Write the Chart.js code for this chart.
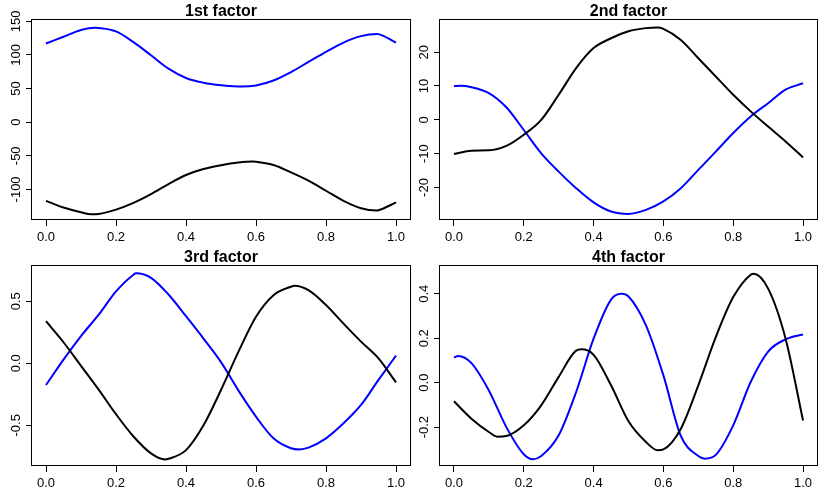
<!DOCTYPE html>
<html>
<head>
<meta charset="utf-8">
<script src="https://cdn.jsdelivr.net/npm/chart.js@4.4.1/dist/chart.umd.min.js"></script>
<style>
  html, body { margin: 0; padding: 0; background: #fff; }
  #wrap { position: relative; width: 818px; height: 487px; overflow: hidden; }
  canvas { position: absolute; }
</style>
</head>
<body>
<div id="wrap">
  <canvas id="f1" width="412" height="243" style="left:0;top:0"></canvas>
  <canvas id="f2" width="406" height="243" style="left:412px;top:0"></canvas>
  <canvas id="f3" width="412" height="244" style="left:0;top:243px"></canvas>
  <canvas id="f4" width="406" height="244" style="left:412px;top:243px"></canvas>
</div>
<script>
// sample positions along the x axis
const xs = [0, 0.05, 0.1, 0.15, 0.2, 0.25, 0.3, 0.35, 0.4, 0.45, 0.5,
            0.55, 0.6, 0.65, 0.7, 0.75, 0.8, 0.85, 0.9, 0.95, 1.0];
const xTicks = [0, 0.2, 0.4, 0.6, 0.8, 1.0];

// 1st factor
const f1Black = [-117, -127, -134, -136.5, -130, -120, -107, -92, -78.6, -69.7, -64,
                 -60, -58.7, -63.7, -74.6, -87, -102, -117, -128, -131, -119.4];
const f1Blue = [117, 127, 137, 140.2, 135, 119, 99.5, 79.6, 65.7, 58.7, 55,
                53.2, 54.7, 62, 74.6, 89.6, 104.5, 118.4, 128, 131, 118.4];
// turning points: [x, y]
const f1BlackPeaks = [[0.13, -137], [0.59, -58.5], [0.945, -131.3]];
const f1BluePeaks = [[0.14, 140.5], [0.56, 53.1], [0.945, 131.2]];
const f1Ticks = [-100, -50, 0, 50, 100, 150];

// 2nd factor
const f2Black = [-10.1, -9.1, -9, -7.7, -4.4, 0, 7.4, 15.3, 21.2, 24.1, 26.2,
                 27.1, 26.9, 23.6, 18.2, 12.8, 7.4, 2.5, -2, -6.4, -11.1];
const f2Blue = [10, 9.65, 7.9, 3.7, -3.0, -9.9, -15.3, -20.2, -24.4, -27.1, -27.8,
                -26.6, -24.1, -20.2, -14.8, -9.4, -3.9, 1, 4.9, 8.9, 10.8];
const f2BlackPeaks = [[0.583, 27.3]];
const f2BluePeaks = [[0.02, 10.05]];
const f2Ticks = [-20, -10, 0, 10, 20];

// 3rd factor
const f3Black = [0.34, 0.17, -0.02, -0.21, -0.41, -0.59, -0.726, -0.77, -0.70, -0.50, -0.215,
                 0.094, 0.376, 0.55, 0.618, 0.59, 0.47, 0.32, 0.175, 0.04, -0.153];
const f3Blue = [-0.175, 0.03, 0.22, 0.39, 0.58, 0.715, 0.69, 0.555, 0.38, 0.2, 0.01,
                -0.22, -0.43, -0.605, -0.685, -0.68, -0.605, -0.484, -0.336, -0.134, 0.062];
const f3BlackPeaks = [[0.34, -0.775], [0.71, 0.626]];
const f3BluePeaks = [[0.257, 0.726], [0.724, -0.694]];
const f3Ticks = [-0.5, 0, 0.5];

// 4th factor
const f4Black = [-0.084, -0.162, -0.222, -0.24, -0.192, -0.102, 0.026, 0.144, 0.125, -0.012, -0.174,
                 -0.267, -0.3, -0.207, -0.012, 0.205, 0.385, 0.486, 0.423, 0.198, -0.17];
const f4Blue = [0.1125, 0.088, -0.035, -0.2, -0.322, -0.33, -0.237, -0.042, 0.198, 0.374, 0.388,
                0.258, 0.033, -0.24, -0.33, -0.325, -0.192, 0.003, 0.14, 0.195, 0.217];
const f4BlackPeaks = [[0.124, -0.243], [0.366, 0.15], [0.583, -0.304], [0.859, 0.49]];
const f4BluePeaks = [[0.012, 0.12], [0.226, -0.345], [0.48, 0.4], [0.719, -0.342]];
const f4Ticks = [-0.2, 0, 0.2, 0.4];

Chart.defaults.font.family = '"Liberation Sans", Arial, Helvetica, sans-serif';
Chart.defaults.color = '#000';

// samples plus turning points, sorted by x
function points(ys, peaks) {
  return xs.map((x, i) => ({ x: x, y: ys[i] }))
    .concat(peaks.map(p => ({ x: p[0], y: p[1] })))
    .sort((a, b) => a.x - b.x);
}

// box around the plot region and vertical y tick labels (R style)
const frame = {
  id: 'frame',
  afterDraw(chart) {
    const { ctx, chartArea: a } = chart;
    const y = chart.scales.y;
    ctx.save();
    ctx.strokeStyle = '#000';
    ctx.lineWidth = 1;
    ctx.strokeRect(a.left - 0.5, a.top - 0.5, a.right - a.left + 1, a.bottom - a.top);
    ctx.fillStyle = '#000';
    ctx.font = '13px "Liberation Sans", Arial, sans-serif';
    ctx.textAlign = 'center';
    ctx.textBaseline = 'middle';
    y.ticks.forEach(t => {
      ctx.save();
      ctx.translate(a.left - 15.5, y.getPixelForValue(t.value));
      ctx.rotate(-Math.PI / 2);
      ctx.fillText(t.label, 0, 0);
      ctx.restore();
    });
    ctx.restore();
  }
};

const panels = [
  { id: 'f1', title: '1st factor', black: points(f1Black, f1BlackPeaks), blue: points(f1Blue, f1BluePeaks),
    ticks: f1Ticks, min: -145.5, max: 152, dec: 0, yw: 32, padR: 2, titleTop: 4, xh: 23 },
  { id: 'f2', title: '2nd factor', black: points(f2Black, f2BlackPeaks), blue: points(f2Blue, f2BluePeaks),
    ticks: f2Ticks, min: -29.6, max: 29.5, dec: 0, yw: 28, padR: 1, titleTop: 4, xh: 23 },
  { id: 'f3', title: '3rd factor', black: points(f3Black, f3BlackPeaks), blue: points(f3Blue, f3BluePeaks),
    ticks: f3Ticks, min: -0.828, max: 0.785, dec: 1, yw: 32, padR: 2, titleTop: 7, xh: 21 },
  { id: 'f4', title: '4th factor', black: points(f4Black, f4BlackPeaks), blue: points(f4Blue, f4BluePeaks),
    ticks: f4Ticks, min: -0.375, max: 0.525, dec: 1, yw: 28, padR: 1, titleTop: 7, xh: 21 }
];

panels.forEach(p => {
  const tickGrid = { drawOnChartArea: false, color: '#000', lineWidth: 1, tickLength: 6 };
  new Chart(document.getElementById(p.id).getContext('2d'), {
    type: 'line',
    data: {
      datasets: [{
        data: p.black,
        borderColor: '#000000',
        borderWidth: 2,
        pointRadius: 0,
        cubicInterpolationMode: 'monotone',
        fill: false
      }, {
        data: p.blue,
        borderColor: '#0000ff',
        borderWidth: 2,
        pointRadius: 0,
        cubicInterpolationMode: 'monotone',
        fill: false
      }]
    },
    options: {
      responsive: false,
      animation: false,
      devicePixelRatio: 1,
      layout: { padding: { left: 0, right: p.padR, top: 0, bottom: 0 } },
      plugins: {
        legend: { display: false },
        tooltip: { enabled: false },
        title: {
          display: true,
          text: p.title,
          fullSize: false,
          color: '#000',
          font: { size: 16, weight: 'bold', lineHeight: 1 },
          padding: { top: p.titleTop, bottom: 0 }
        }
      },
      scales: {
        x: {
          type: 'linear',
          min: -0.04,
          max: 1.04,
          afterBuildTicks: s => { s.ticks = xTicks.map(v => ({ value: v })); },
          afterFit: s => { s.height = p.xh; },
          grid: tickGrid,
          border: { display: false },
          ticks: {
            color: '#000',
            font: { size: 13 },
            padding: 4,
            maxRotation: 0,
            autoSkip: false,
            callback: v => v.toFixed(1)
          }
        },
        y: {
          type: 'linear',
          min: p.min,
          max: p.max,
          afterBuildTicks: s => { s.ticks = p.ticks.map(v => ({ value: v })); },
          afterFit: s => { s.width = p.yw; },
          grid: tickGrid,
          border: { display: false },
          ticks: {
            display: false,
            callback: v => v.toFixed(p.dec)
          }
        }
      }
    },
    plugins: [frame]
  });
});
</script>
</body>
</html>
